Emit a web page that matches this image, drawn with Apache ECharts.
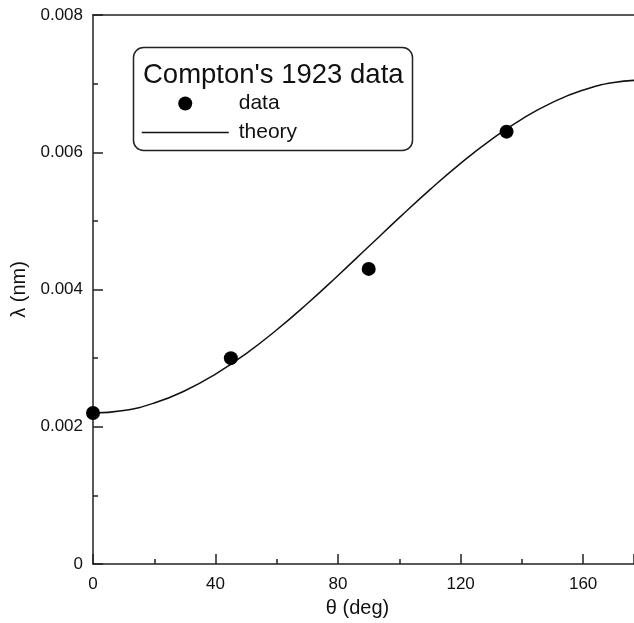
<!DOCTYPE html>
<html><head><meta charset="utf-8">
<script src="https://cdn.jsdelivr.net/npm/echarts@6/dist/echarts.min.js"></script>
<style>html,body{margin:0;padding:0;background:#fff}#c{width:634px;height:623px}</style>
</head><body><div id="c"></div>
<script>
// measured data (theta in deg, lambda in nm)
const dataTheta = [0, 45, 90, 135];
const dataLambda = [0.0022, 0.0030, 0.0043, 0.0063];
// theory curve
const theoryTheta = [0,10,20,30,40,50,60,70,80,90,100,110,120,130,140,150,160,170,180];
const theoryLambda = [0.00220,0.002237,0.002346,0.002525,0.002768,0.003067,0.003413,0.003796,0.004205,0.004626,0.005047,0.005456,0.005839,0.006185,0.006484,0.006727,0.006906,0.007015,0.007052];
const xTicks = [0,40,80,120,160];
const yTicks = ['0','0.002','0.004','0.006','0.008'];
// visible part of the theta axis (the frame is cut at the right edge)
const xMin = 0, xMaxVisible = 176.6;

const font = 'Liberation Sans, Arial, sans-serif';
const chart = echarts.init(document.getElementById('c'), null, {renderer:'canvas'});
chart.setOption({
  animation:false,
  backgroundColor:'#fff',
  title:{text:"Compton's 1923 data", left:138, top:56,
    textStyle:{fontFamily:font, fontSize:27.5, fontWeight:'normal', color:'#111'}},
  legend:{orient:'vertical', left:136, top:88, itemWidth:87, itemHeight:14, itemGap:8,
    textStyle:{fontFamily:font, fontSize:21, color:'#111', padding:[0,0,0,5]},
    data:[{name:'data', icon:'circle', itemStyle:{color:'#000', opacity:1}},
          {name:'theory', itemStyle:{opacity:0}, lineStyle:{color:'#111', width:1.5, opacity:1}}]},
  graphic:[{type:'rect', shape:{x:133.5,y:47.5,width:279,height:103,r:10},
    style:{fill:null, stroke:'#222', lineWidth:1.5}, z:10}],
  grid:{left:93, top:15, right:0, bottom:59},
  xAxis:[{type:'value', min:xMin, max:xMaxVisible, interval:40,
    name:'θ (deg)', nameLocation:'middle', nameGap:34,
    nameTextStyle:{fontFamily:font, fontSize:20, color:'#111', padding:[0,12,0,0]},
    axisLine:{lineStyle:{color:'#222', width:1.5}},
    axisTick:{inside:true, length:10, lineStyle:{color:'#222', width:1.5}},
    minorTick:{show:true, splitNumber:2, length:5, lineStyle:{color:'#222', width:1.5}},
    axisLabel:{fontFamily:font, fontSize:17, color:'#111', margin:12, showMaxLabel:false,
      formatter:v=>xTicks.includes(v)?String(v):''},
    splitLine:{show:false}},
    {type:'value', position:'top', min:xMin, max:xMaxVisible,
     axisLine:{show:true, onZero:false, lineStyle:{color:'#222', width:1.5}},
     axisTick:{show:false}, axisLabel:{show:false}, splitLine:{show:false}}],
  yAxis:{type:'value', min:0, max:0.008, interval:0.002,
    name:'λ (nm)', nameLocation:'middle', nameGap:53, nameRotate:90,
    nameTextStyle:{fontFamily:font, fontSize:20, color:'#111'},
    axisLine:{lineStyle:{color:'#222', width:1.5}},
    axisTick:{inside:true, length:10, lineStyle:{color:'#222', width:1.5}},
    minorTick:{show:true, splitNumber:2, length:5, lineStyle:{color:'#222', width:1.5}},
    axisLabel:{fontFamily:font, fontSize:17, color:'#111', margin:10,
      formatter:v=>{const s=yTicks.find(t=>Math.abs(parseFloat(t)-v)<1e-9);return s===undefined?'':s;}},
    splitLine:{show:false}},
  series:[
    {name:'theory', type:'line', smooth:true, showSymbol:false, symbol:'none',
      data:theoryTheta.map((t,i)=>[t,theoryLambda[i]]),
      lineStyle:{color:'#111', width:1.5}, itemStyle:{color:'#111'}, z:2, clip:true},
    {name:'data', type:'scatter', symbol:'circle', symbolSize:14,
      data:dataTheta.map((t,i)=>[t,dataLambda[i]]),
      itemStyle:{color:'#000', opacity:1}, z:3, clip:false}
  ]
});
</script></body></html>
